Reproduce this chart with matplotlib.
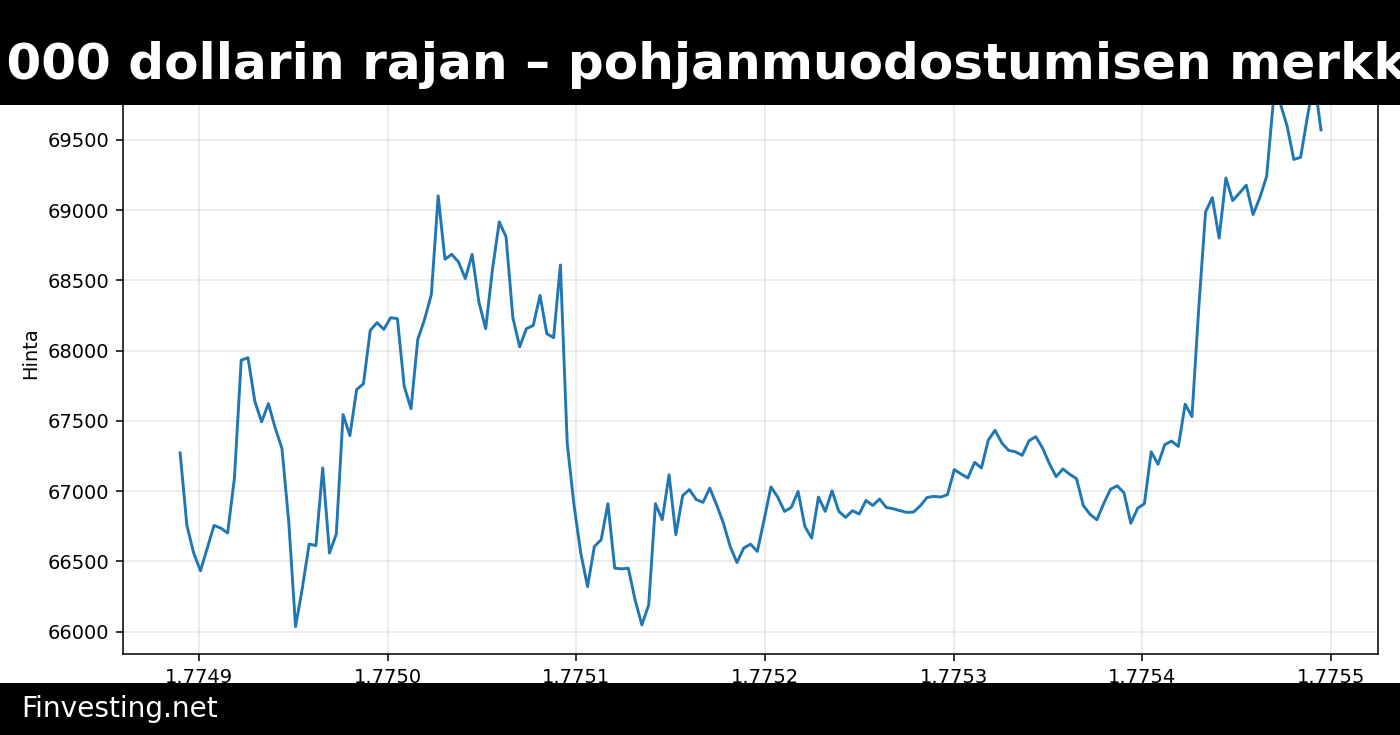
import numpy as np
import matplotlib
matplotlib.use('Agg')
import matplotlib.pyplot as plt
from matplotlib.patches import Rectangle

# hourly closes, first point at unix time 1774890000
start_ts = 1774890000
prices = [
    67272, 66756, 66559, 66433, 66595, 66756, 66737, 66702, 67094, 67932,
    67949, 67640, 67493, 67623, 67450, 67303, 66780, 66036, 66310, 66623,
    66613, 67165, 66559, 66695, 67545, 67395, 67723, 67764, 68144, 68199,
    68151, 68234, 68227, 67747, 67586, 68080, 68222, 68400, 69101, 68650,
    68685, 68630, 68512, 68685, 68345, 68156, 68578, 68916, 68809, 68234,
    68027, 68156, 68179, 68393, 68120, 68092, 68609, 67343, 66903, 66559,
    66321, 66606, 66654, 66911, 66452, 66447, 66452, 66226, 66048, 66190,
    66911, 66797, 67117, 66690, 66968, 67011, 66940, 66920, 67022, 66903,
    66773, 66606, 66492, 66595, 66623, 66571, 66797, 67030, 66958, 66856,
    66884, 66998, 66749, 66666, 66958, 66856, 67003, 66856, 66813, 66861,
    66837, 66934, 66898, 66944, 66884, 66875, 66861, 66849, 66851, 66896,
    66955, 66963, 66958, 66975, 67153, 67122, 67094, 67205, 67165, 67362,
    67433, 67343, 67290, 67280, 67255, 67358, 67388, 67307, 67196, 67103,
    67158, 67120, 67089, 66898, 66835, 66796, 66911, 67013, 67038, 66987,
    66771, 66878, 66911, 67280, 67191, 67331, 67356, 67318, 67619, 67530,
    68300, 68986, 69088, 68800, 69228, 69067, 69121, 69177, 68968, 69088,
    69240, 69780, 69760, 69600, 69360, 69375, 69662, 69930, 69570,
]
times = start_ts + 3600 * np.arange(len(prices))
yticks = [66000, 66500, 67000, 67500, 68000, 68500, 69000, 69500]

title_head = 'Bitcoin ylitti 70 '
title_rest = '000 dollarin rajan – pohjanmuodostumisen merkki?'
footer = 'Finvesting.net'

fig = plt.figure(figsize=(10, 5.25), dpi=140)
ax = fig.add_axes([0.0879, 0.1102, 0.8964, 0.8191])
ax.plot(times, prices, color='#1f77b4', linewidth=1.5)
ax.set_ylabel('Hinta', fontsize=10)
ax.set_yticks(yticks)
ax.grid(True, alpha=0.3)
ax.ticklabel_format(axis='x', useOffset=False)
ax.tick_params(labelsize=10)

# black bars over top and bottom
fig.add_artist(Rectangle((0, 1 - 105 / 735), 1, 105 / 735, transform=fig.transFigure,
                         facecolor='black', edgecolor='none', zorder=5))
fig.add_artist(Rectangle((0, 0), 1, 52 / 735, transform=fig.transFigure,
                         facecolor='black', edgecolor='none', zorder=5))

# place the title so that "000" starts near the left edge
title_size = 25.8
renderer = fig.canvas.get_renderer()
tmp = fig.text(0, 0, title_head + '000', fontsize=title_size, fontweight='bold')
w_all = tmp.get_window_extent(renderer).width
tmp.set_text('000')
w3 = tmp.get_window_extent(renderer).width
tmp.remove()
x0 = (6 - (w_all - w3)) / 1400
fig.text(x0, 1 - 79 / 735, title_head + title_rest, fontsize=title_size, fontweight='bold',
         color='white', ha='left', va='baseline', zorder=6)

fig.text(21 / 1400, 1 - 717 / 735, footer, fontsize=14.4, color='white',
         ha='left', va='baseline', zorder=6)

fig.savefig('out.png', dpi=140)
